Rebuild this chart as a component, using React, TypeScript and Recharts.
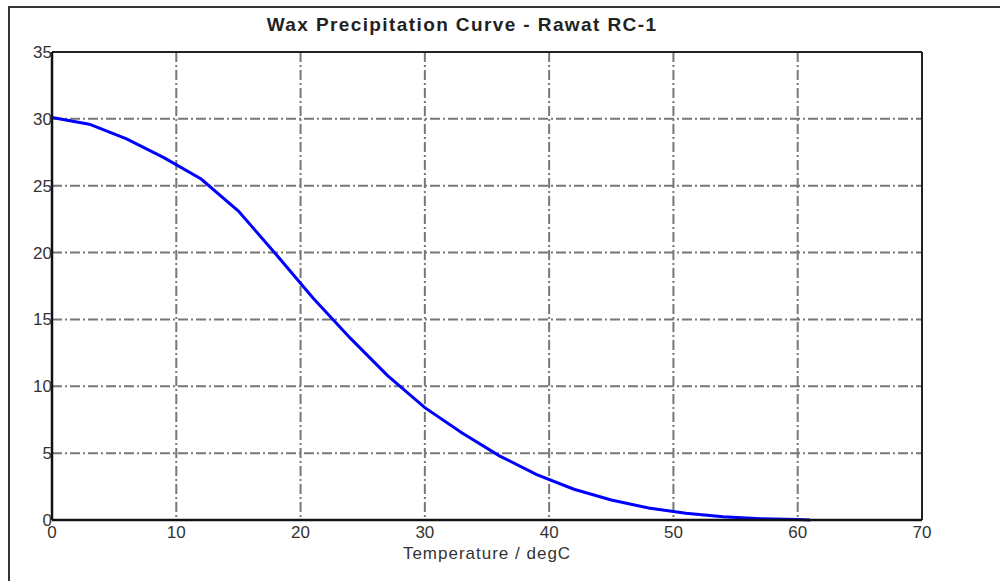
import { CartesianGrid, Label, Line, LineChart, ReferenceLine, XAxis, YAxis } from "recharts";

const temperature = [0, 3, 6, 9, 12, 15, 18, 21, 24, 27, 30, 33, 36, 39, 42, 45, 48, 51, 54, 57, 60, 61];
const waxPrecipitated = [30.1, 29.6, 28.5, 27.1, 25.5, 23.1, 19.9, 16.6, 13.6, 10.8, 8.4, 6.5, 4.8, 3.4, 2.3, 1.5, 0.9, 0.5, 0.25, 0.1, 0.03, 0];
const xTicks = [0, 10, 20, 30, 40, 50, 60, 70];
const yTicks = [0, 5, 10, 15, 20, 25, 30, 35];

const chartData = temperature.map((t, i) => ({ t, wax: waxPrecipitated[i] }));

const tickStyle = { fill: "#333", fontSize: 17, fontFamily: "Arial, 'Liberation Sans', sans-serif" };

export default function App() {
  return (
    <div style={{ position: "absolute", left: 0, top: 0, width: 1000, height: 581, overflow: "hidden", background: "#fff" }}>
      <div
        style={{
          position: "absolute",
          left: 8,
          top: 6,
          width: 1000,
          height: 600,
          borderTop: "2px solid #333",
          borderLeft: "2px solid #333",
        }}
      />
      <div
        style={{
          position: "absolute",
          left: 0,
          top: 14,
          width: 924,
          textAlign: "center",
          fontFamily: "Arial, 'Liberation Sans', sans-serif",
          fontWeight: "bold",
          fontSize: 19,
          letterSpacing: 1.4,
          color: "#222",
        }}
      >
        Wax Precipitation Curve - Rawat RC-1
      </div>
      <LineChart
        width={1000}
        height={581}
        data={chartData}
        margin={{ top: 52, right: 78, left: 0, bottom: 0 }}
        style={{ position: "absolute", left: 0, top: 0 }}
      >
        <CartesianGrid stroke="#777" strokeWidth={2} strokeDasharray="10 3 2 3" />
        <XAxis
          dataKey="t"
          type="number"
          domain={[0, 70]}
          ticks={xTicks}
          height={61}
          tickSize={0}
          tickMargin={6}
          tick={tickStyle}
          stroke="#111"
          strokeWidth={2.5}
        >
          <Label
            value="Temperature / degC"
            position="insideBottom"
            offset={22}
            style={{ fill: "#333", fontSize: 17, letterSpacing: 1, fontFamily: "Arial, 'Liberation Sans', sans-serif" }}
          />
        </XAxis>
        <YAxis
          type="number"
          domain={[0, 35]}
          ticks={yTicks}
          width={52}
          tickSize={0}
          tickMargin={0}
          tick={tickStyle}
          stroke="#111"
          strokeWidth={2.5}
        />
        <ReferenceLine x={70} stroke="#222" strokeWidth={2} />
        <ReferenceLine y={35} stroke="#222" strokeWidth={2} />
        <Line
          dataKey="wax"
          type="linear"
          stroke="#0000ff"
          strokeWidth={3}
          dot={false}
          isAnimationActive={false}
        />
      </LineChart>
    </div>
  );
}
